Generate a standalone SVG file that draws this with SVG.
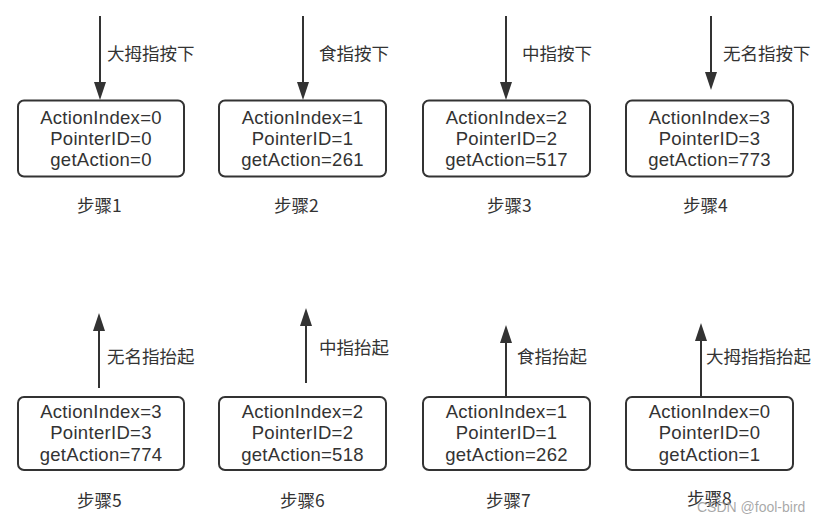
<svg xmlns="http://www.w3.org/2000/svg" width="821" height="522" viewBox="0 0 821 522">
<style>
.box{fill:#fff;stroke:#333;stroke-width:2}
.t{font-family:"Liberation Sans",Arial,sans-serif;font-size:18.5px;letter-spacing:0.3px;fill:#333;text-anchor:middle}
.lb{font-family:"Noto Sans CJK SC","Noto Sans",sans-serif;font-size:17.5px;fill:#333}
.st{font-family:"Noto Sans CJK SC","Noto Sans",sans-serif;font-size:17.5px;fill:#333}
.wm{font-family:"Liberation Sans",Arial,sans-serif;font-size:14px;fill:#999;fill-opacity:0.85}
.c{stroke:#333;stroke-width:2;fill:none;marker-end:url(#ah)}
</style>
<defs>
<marker id="ah" viewBox="0 0 18 12" refX="10" refY="6" markerWidth="18" markerHeight="12" markerUnits="userSpaceOnUse" orient="auto">
<path d="M0,0 L18,6 L0,12 z" fill="#333"/>
</marker>
</defs>
<rect width="821" height="522" fill="#fff"/>
<g id="connectors">
<line class="c" x1="100" y1="16" x2="100" y2="92"/>
<line class="c" x1="303" y1="16" x2="303" y2="92"/>
<line class="c" x1="506" y1="16" x2="506" y2="92"/>
<line class="c" x1="711" y1="16" x2="711" y2="82"/>
<line class="c" x1="99" y1="388" x2="99" y2="321"/>
<line class="c" x1="306" y1="383" x2="306" y2="316"/>
<line class="c" x1="506" y1="397" x2="506" y2="333"/>
<line class="c" x1="701" y1="397" x2="701" y2="331"/>
<text class="lb" x="107" y="59.5">大拇指按下</text>
<text class="lb" x="319" y="59.5">食指按下</text>
<text class="lb" x="522" y="59.5">中指按下</text>
<text class="lb" x="723" y="59.5">无名指按下</text>
<text class="lb" x="107" y="362.5">无名指抬起</text>
<text class="lb" x="319" y="354">中指抬起</text>
<text class="lb" x="517" y="362.5">食指抬起</text>
<text class="lb" x="706" y="362.5">大拇指指抬起</text>
</g>
<g id="node1">
<rect class="box" x="18" y="100.5" width="166" height="76" rx="6"/>
<text class="t" x="101" y="123.5">ActionIndex=0</text>
<text class="t" x="101" y="144.5">PointerID=0</text>
<text class="t" x="101" y="165.5">getAction=0</text>
<text class="st" x="77" y="211.5">步骤1</text>
</g>
<g id="node2">
<rect class="box" x="219" y="100.5" width="167" height="76" rx="6"/>
<text class="t" x="302.5" y="123.5">ActionIndex=1</text>
<text class="t" x="302.5" y="144.5">PointerID=1</text>
<text class="t" x="302.5" y="165.5">getAction=261</text>
<text class="st" x="274" y="211.5">步骤2</text>
</g>
<g id="node3">
<rect class="box" x="423" y="100.5" width="167" height="76" rx="6"/>
<text class="t" x="506.5" y="123.5">ActionIndex=2</text>
<text class="t" x="506.5" y="144.5">PointerID=2</text>
<text class="t" x="506.5" y="165.5">getAction=517</text>
<text class="st" x="487" y="211.5">步骤3</text>
</g>
<g id="node4">
<rect class="box" x="626" y="100.5" width="167" height="76" rx="6"/>
<text class="t" x="709.5" y="123.5">ActionIndex=3</text>
<text class="t" x="709.5" y="144.5">PointerID=3</text>
<text class="t" x="709.5" y="165.5">getAction=773</text>
<text class="st" x="683" y="211.5">步骤4</text>
</g>
<g id="node5">
<rect class="box" x="18" y="397" width="166" height="73" rx="6"/>
<text class="t" x="101" y="417.5">ActionIndex=3</text>
<text class="t" x="101" y="439">PointerID=3</text>
<text class="t" x="101" y="460.5">getAction=774</text>
<text class="st" x="77" y="506.5">步骤5</text>
</g>
<g id="node6">
<rect class="box" x="219" y="397" width="167" height="73" rx="6"/>
<text class="t" x="302.5" y="417.5">ActionIndex=2</text>
<text class="t" x="302.5" y="439">PointerID=2</text>
<text class="t" x="302.5" y="460.5">getAction=518</text>
<text class="st" x="280" y="506.5">步骤6</text>
</g>
<g id="node7">
<rect class="box" x="423" y="397" width="167" height="73" rx="6"/>
<text class="t" x="506.5" y="417.5">ActionIndex=1</text>
<text class="t" x="506.5" y="439">PointerID=1</text>
<text class="t" x="506.5" y="460.5">getAction=262</text>
<text class="st" x="486" y="506.5">步骤7</text>
</g>
<g id="node8">
<rect class="box" x="626" y="397" width="167" height="73" rx="6"/>
<text class="t" x="709.5" y="417.5">ActionIndex=0</text>
<text class="t" x="709.5" y="439">PointerID=0</text>
<text class="t" x="709.5" y="460.5">getAction=1</text>
<text class="st" x="687" y="505">步骤8</text>
</g>
<text class="wm" x="697" y="512">CSDN @fool-bird</text>
</svg>
